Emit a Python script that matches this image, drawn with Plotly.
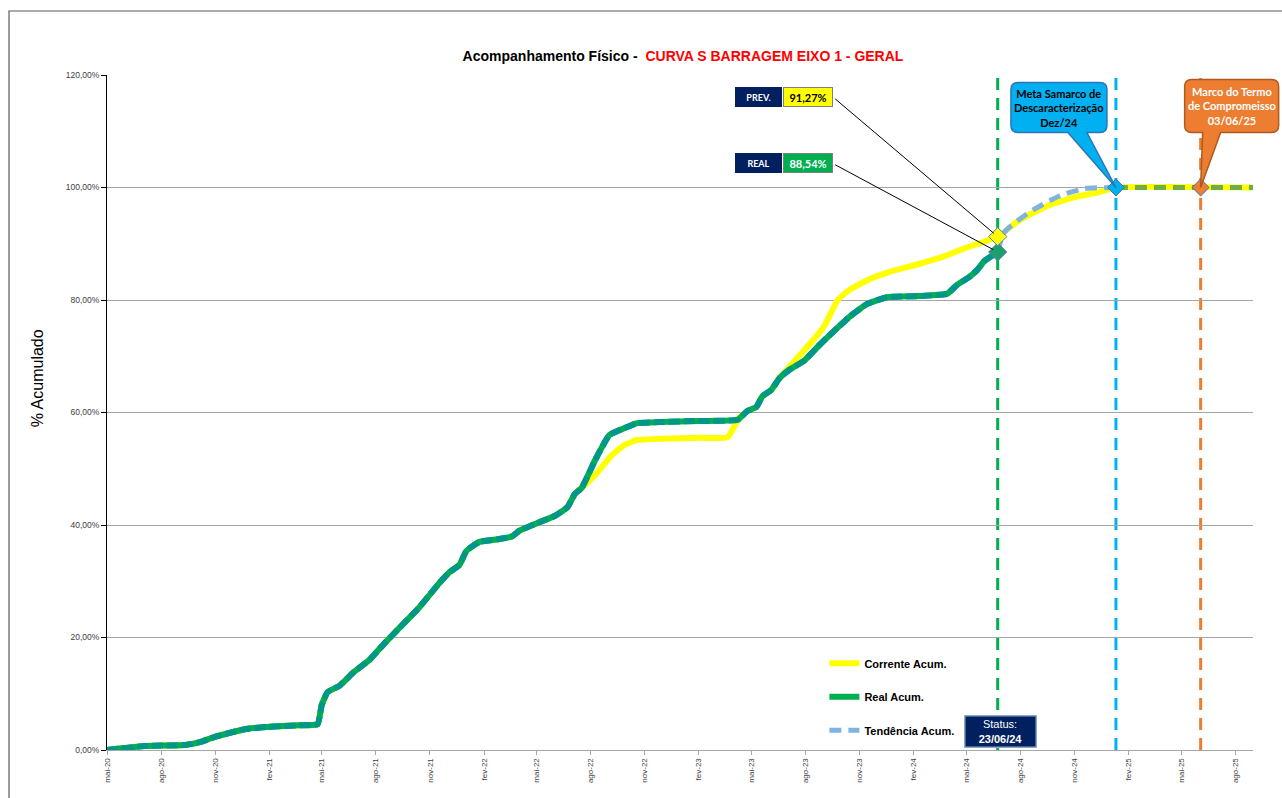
import plotly.graph_objects as go
import pandas as pd

# ---- series data (% acumulado) ----
real_dates = ["2020-05-01", "2020-07-04", "2020-09-10", "2020-10-06", "2020-10-30", "2020-12-21",
              "2021-01-27", "2021-03-24", "2021-04-24", "2021-05-01", "2021-05-11", "2021-05-31",
              "2021-06-25", "2021-07-21", "2021-08-16", "2021-09-10", "2021-10-14", "2021-11-17",
              "2021-12-04", "2021-12-21", "2022-01-02", "2022-01-24", "2022-02-27", "2022-03-21",
              "2022-04-02", "2022-05-06", "2022-06-01", "2022-06-23", "2022-07-05", "2022-07-17",
              "2022-08-09", "2022-09-02", "2022-09-27", "2022-10-19", "2022-11-26", "2023-02-02",
              "2023-04-08", "2023-04-25", "2023-05-10", "2023-05-20", "2023-06-04", "2023-06-18",
              "2023-07-05", "2023-07-30", "2023-08-25", "2023-09-19", "2023-10-15", "2023-11-14",
              "2023-12-18", "2024-02-10", "2024-03-29", "2024-04-15", "2024-05-06", "2024-05-19",
              "2024-05-31", "2024-06-23"]
real_vals = [0.0, 0.7, 0.9, 1.4, 2.3, 3.7,
             4.1, 4.4, 4.6, 8.0, 10.3, 11.4,
             13.9, 16.0, 19.0, 21.7, 25.4, 29.7,
             31.6, 32.9, 35.4, 37.0, 37.5, 38.0,
             39.0, 40.5, 41.6, 43.2, 45.5, 46.6,
             51.6, 56.0, 57.2, 58.1, 58.3, 58.5,
             58.7, 60.3, 61.0, 62.9, 64.0, 66.1,
             67.6, 69.2, 72.0, 74.5, 77.0, 79.3,
             80.5, 80.7, 81.1, 82.7, 84.1, 85.3,
             86.9, 88.54]

corr_dates = real_dates[:30] + [
    "2022-08-09", "2022-09-06", "2022-09-27", "2022-10-19", "2023-02-02", "2023-03-22",
    "2023-04-10", "2023-04-25", "2023-05-10", "2023-05-20", "2023-06-04", "2023-06-18",
    "2023-07-21", "2023-08-17", "2023-09-03", "2023-09-25", "2023-10-15", "2023-11-18",
    "2023-12-22", "2024-02-10", "2024-03-25", "2024-04-28", "2024-06-23", "2024-07-30",
    "2024-09-19", "2024-11-01", "2024-12-13", "2025-01-10", "2025-08-31"]
corr_vals = real_vals[:30] + [
    48.9, 52.4, 54.2, 55.1, 55.5, 55.6,
    59.0, 60.3, 61.0, 62.9, 64.0, 66.1,
    70.0, 73.2, 75.5, 80.0, 81.8, 83.7,
    85.0, 86.4, 87.8, 89.2, 91.27, 94.2,
    96.9, 98.3, 99.2, 100.0, 100.0]

tend_dates = ["2024-06-23", "2024-07-04", "2024-08-16", "2024-10-06", "2024-11-18", "2025-01-10"]
tend_vals = [88.54, 92.0, 95.6, 98.5, 99.8, 100.0]
tend_tail_dates = ["2025-01-10", "2025-08-31"]
tend_tail_vals = [100.0, 100.0]

# marcos
status_date = "2024-06-23"
prev_val = 91.27
real_val = 88.54
meta_date = "2025-01-10"
marco_date = "2025-06-03"
marco_val = 100.0

x_range = ["2020-05-01", "2025-08-31"]
y_range = [0, 120]
tick_dates = ["2020-05-01", "2020-08-01", "2020-11-01", "2021-02-01", "2021-05-01", "2021-08-01",
              "2021-11-01", "2022-02-01", "2022-05-01", "2022-08-01", "2022-11-01", "2023-02-01",
              "2023-05-01", "2023-08-01", "2023-11-01", "2024-02-01", "2024-05-01", "2024-08-01",
              "2024-11-01", "2025-02-01", "2025-05-01", "2025-08-01"]
tick_text = ["mai-20", "ago-20", "nov-20", "fev-21", "mai-21", "ago-21", "nov-21", "fev-22",
             "mai-22", "ago-22", "nov-22", "fev-23", "mai-23", "ago-23", "nov-23", "fev-24",
             "mai-24", "ago-24", "nov-24", "fev-25", "mai-25", "ago-25"]
y_ticks = [0, 20, 40, 60, 80, 100, 120]
y_tick_text = ["0,00%", "20,00%", "40,00%", "60,00%", "80,00%", "100,00%", "120,00%"]

SANS = "Liberation Sans, Arial, sans-serif"
CAL = "Lato, Carlito, Calibri, sans-serif"
YELLOW = "#FFFF00"
GREEN = "#00B050"
TEAL = "#00968A"
LBLUE = "#80B4DE"
LGREEN = "#70AD47"
NAVY = "#002060"
CYAN = "#00B0F0"
ORANGE = "#ED7D31"

fig = go.Figure()

fig.add_trace(go.Scatter(x=corr_dates, y=corr_vals, mode="lines", name="Corrente Acum.",
                         legendgroup="a", line=dict(color=YELLOW, width=6, shape="spline", smoothing=0.4)))
fig.add_trace(go.Scatter(x=real_dates, y=real_vals, mode="lines", name="Real Acum.",
                         legendgroup="b", line=dict(color=GREEN, width=6, shape="spline", smoothing=0.4)))
fig.add_trace(go.Scatter(x=real_dates, y=real_vals, mode="lines", showlegend=False, hoverinfo="skip",
                         line=dict(color=TEAL, width=6, dash="11px,4px", shape="spline", smoothing=0.4)))
fig.add_trace(go.Scatter(x=tend_dates, y=tend_vals, mode="lines", name="Tendência Acum.",
                         legendgroup="c", line=dict(color=LBLUE, width=5, dash="12px,7px",
                                                    shape="spline", smoothing=0.6)))
fig.add_trace(go.Scatter(x=tend_tail_dates, y=tend_tail_vals, mode="lines", showlegend=False,
                         hoverinfo="skip", line=dict(color=LGREEN, width=5, dash="12px,7px")))

# marcadores dos pontos de status e marcos
fig.add_trace(go.Scatter(x=[status_date], y=[real_val], mode="markers", showlegend=False,
                         marker=dict(symbol="diamond", size=14, color="#1E9E6E",
                                     line=dict(color="#5B7FA6", width=1))))
fig.add_trace(go.Scatter(x=[status_date], y=[prev_val], mode="markers", showlegend=False,
                         marker=dict(symbol="diamond", size=14, color=YELLOW,
                                     line=dict(color="#5B7FA6", width=1))))
fig.add_trace(go.Scatter(x=[meta_date], y=[marco_val], mode="markers", showlegend=False,
                         marker=dict(symbol="diamond", size=13, color=CYAN,
                                     line=dict(color="#41719C", width=1))))
fig.add_trace(go.Scatter(x=[marco_date], y=[marco_val], mode="markers", showlegend=False,
                         marker=dict(symbol="diamond", size=13, color=ORANGE,
                                     line=dict(color="#41719C", width=1))))

# linhas verticais tracejadas
for d, c in [(status_date, GREEN), (meta_date, CYAN), (marco_date, ORANGE)]:
    fig.add_shape(type="line", xref="x", yref="paper", x0=d, x1=d, y0=0, y1=1,
                  line=dict(color=c, width=3, dash="12px,8px"), layer="between")


def paper_x(d):
    t0, t1 = pd.Timestamp(x_range[0]), pd.Timestamp(x_range[1])
    return (pd.Timestamp(d) - t0) / (t1 - t0)


def paper_y(v):
    return (v - y_range[0]) / (y_range[1] - y_range[0])


def callout_path(x0, x1, yb, yt, w0, w1, r=7):
    # balão arredondado com ponta em (0, 0); coordenadas em pixels, y para cima
    return (f"M{x0 + r},{yt} L{x1 - r},{yt} Q{x1},{yt} {x1},{yt - r} "
            f"L{x1},{yb + r} Q{x1},{yb} {x1 - r},{yb} L{w1},{yb} L0,0 L{w0},{yb} "
            f"L{x0 + r},{yb} Q{x0},{yb} {x0},{yb + r} L{x0},{yt - r} Q{x0},{yt} {x0 + r},{yt} Z")


fig.add_shape(type="path", xsizemode="pixel", ysizemode="pixel", xref="paper", yref="paper",
              xanchor=paper_x(meta_date), yanchor=paper_y(marco_val),
              path=callout_path(-105, -9, 55, 105, -48, -29),
              fillcolor=CYAN, line=dict(color="#2E75B6", width=1.5), layer="above")
fig.add_shape(type="path", xsizemode="pixel", ysizemode="pixel", xref="paper", yref="paper",
              xanchor=paper_x(marco_date), yanchor=paper_y(marco_val),
              path=callout_path(-16, 78, 55, 108, 2, 20),
              fillcolor=ORANGE, line=dict(color="#AE5A21", width=1.5), layer="above")

# contorno externo do gráfico
fig.add_shape(type="rect", xref="paper", yref="paper", x0=-0.0855, x1=1.5, y0=-0.5, y1=1.0948,
              line=dict(color="#595959", width=1.2), fillcolor="rgba(0,0,0,0)", layer="above")

ann = []
ann.append(dict(x=meta_date, y=marco_val, xref="x", yref="y", showarrow=False, xshift=-57, yshift=80,
                text="<b>Meta Samarco de<br>Descaracterização<br>Dez/24</b>",
                font=dict(family=CAL, size=11, color="black")))
ann.append(dict(x=marco_date, y=marco_val, xref="x", yref="y", showarrow=False, xshift=31, yshift=82,
                text="<b>Marco do Termo<br>de Compromeisso<br>03/06/25</b>",
                font=dict(family=CAL, size=11, color="white")))

# caixas PREV / REAL ligadas aos pontos de status
ann.append(dict(x=status_date, y=prev_val, xref="x", yref="y", showarrow=True, arrowhead=0,
                arrowwidth=1, arrowcolor="black", ax=-164, ay=-139, text="", standoff=5))
ann.append(dict(x=status_date, y=real_val, xref="x", yref="y", showarrow=True, arrowhead=0,
                arrowwidth=1, arrowcolor="black", ax=-164, ay=-88, text="", standoff=5))
for yv, ys, lab, val, bg, fc in [(prev_val, 140, "PREV.", "91,27%", YELLOW, "black"),
                                 (real_val, 89, "REAL", "88,54%", GREEN, "white")]:
    ann.append(dict(x=status_date, y=yv, xref="x", yref="y", showarrow=False, xshift=-239, yshift=ys,
                    text=f"<b>{lab}</b>", width=45, height=18, bgcolor=NAVY, borderpad=0,
                    bordercolor=NAVY, borderwidth=1, font=dict(family=CAL, size=9, color="white")))
    ann.append(dict(x=status_date, y=yv, xref="x", yref="y", showarrow=False, xshift=-190, yshift=ys,
                    text=f"<b>{val}</b>", width=48, height=18, bgcolor=bg, borderpad=0,
                    bordercolor="#7F7F7F", borderwidth=1, font=dict(family=CAL, size=11, color=fc)))

# caixa de status
ann.append(dict(x=status_date, y=0, xref="x", yref="y", showarrow=False, xshift=3, yshift=19,
                text="Status:<br><b>23/06/24</b>", width=70, height=30, bgcolor=NAVY, borderpad=0,
                bordercolor="#8EA9C8", borderwidth=1.5, font=dict(family=SANS, size=11, color="white")))

# título do eixo y
ann.append(dict(x=-0.061, y=0.551, xref="paper", yref="paper", showarrow=False, textangle=-90,
                xanchor="center", yanchor="middle",
                text="% Acumulado", font=dict(family=SANS, size=16, color="black")))

fig.update_layout(
    width=1282, height=798, autosize=False,
    margin=dict(l=107, r=29, t=75, b=48),
    paper_bgcolor="white", plot_bgcolor="white",
    title=dict(text="<b>Acompanhamento Físico -  <span style='color:#FF0000'>CURVA S BARRAGEM EIXO 1 - GERAL</span></b>",
               x=683 / 1282, xanchor="center", y=1 - 56 / 798, yanchor="middle",
               font=dict(family=SANS, size=14, color="black")),
    annotations=ann,
    legend=dict(x=0.626, y=0.15, xanchor="left", yanchor="top", bgcolor="rgba(0,0,0,0)",
                tracegroupgap=14.5, font=dict(family=SANS, size=11, color="black", weight="bold"),
                itemwidth=30),
    xaxis=dict(type="date", range=x_range, tickvals=tick_dates, ticktext=tick_text,
               tickangle=-90, tickfont=dict(family=SANS, size=8, color="#404040"),
               showline=True, linecolor="#A6A6A6", linewidth=1, ticks="outside", ticklen=4,
               tickcolor="#A6A6A6", showgrid=False, zeroline=False),
    yaxis=dict(range=y_range, tickvals=y_ticks, ticktext=y_tick_text,
               tickfont=dict(family=SANS, size=8.5, color="#404040"),
               showline=True, linecolor="black", linewidth=1, ticks="outside", ticklen=5,
               tickcolor="black", showgrid=True, gridcolor="#A6A6A6", gridwidth=1, zeroline=False),
    showlegend=True,
)

fig.write_html("out.html")
